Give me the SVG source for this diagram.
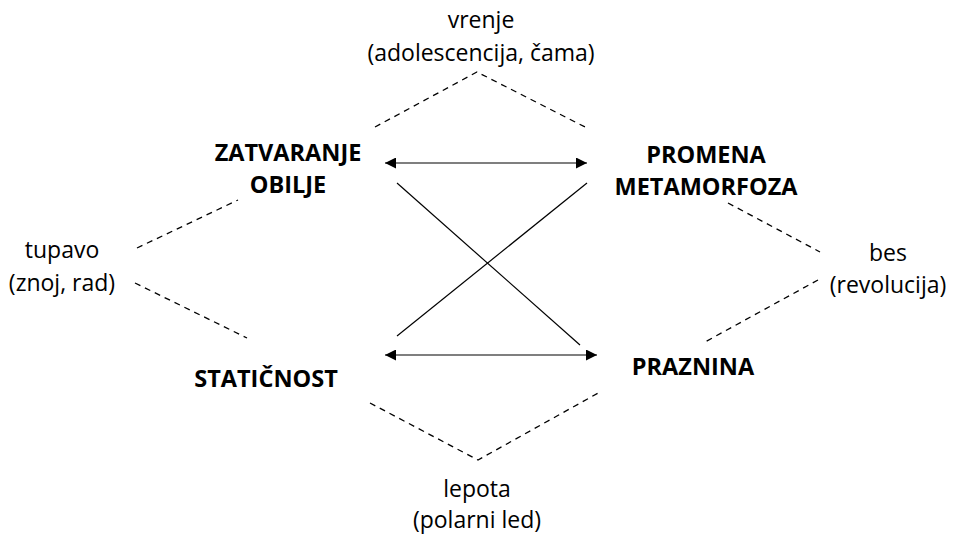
<svg xmlns="http://www.w3.org/2000/svg" width="965" height="534" viewBox="0 0 965 534">
<style>
.r{font-family:"Open Sans","Noto Sans",sans-serif;font-size:23px;fill:#000;text-anchor:middle}
.b{font-family:"Open Sans","Noto Sans",sans-serif;font-size:23.5px;font-weight:bold;fill:#000;text-anchor:middle}
.d{stroke:#000;stroke-width:1.3;stroke-dasharray:6 5;fill:none}
.s{stroke:#000;stroke-width:1.2;fill:none}
</style>
<defs>
<marker id="ah" viewBox="0 0 10 10" refX="10" refY="5" markerWidth="15" markerHeight="11" markerUnits="userSpaceOnUse" orient="auto-start-reverse">
<path d="M0,0 L10,5 L0,10 z" fill="#000"/>
</marker>
</defs>
<rect width="965" height="534" fill="#fff"/>
<g id="connectors">
<path class="d" d="M375,127 L477,72 L587,128"/>
<path class="d" d="M137,248 L238,200"/>
<path class="d" d="M135,283 L247,338"/>
<path class="d" d="M728,203 L820,252"/>
<path class="d" d="M818,280 L705,342"/>
<path class="d" d="M370,403 L478,460 L600,392"/>
<line class="s" x1="385" y1="163" x2="587" y2="163" marker-start="url(#ah)" marker-end="url(#ah)"/>
<line class="s" x1="385" y1="355" x2="597" y2="355" marker-start="url(#ah)" marker-end="url(#ah)"/>
<line class="s" x1="397" y1="183" x2="580" y2="345"/>
<line class="s" x1="587" y1="183" x2="397" y2="336"/>
</g>
<g id="n-zatvaranje"><text class="b" x="288" y="161">ZATVARANJE</text><text class="b" x="288" y="193">OBILJE</text></g>
<g id="n-promena"><text class="b" x="706" y="163">PROMENA</text><text class="b" x="706" y="195">METAMORFOZA</text></g>
<g id="n-staticnost"><text class="b" x="266" y="387">STATIČNOST</text></g>
<g id="n-praznina"><text class="b" x="693" y="375">PRAZNINA</text></g>
<g id="n-vrenje"><text class="r" x="481" y="28">vrenje</text><text class="r" x="481" y="61">(adolescencija, čama)</text></g>
<g id="n-tupavo"><text class="r" x="62" y="258">tupavo</text><text class="r" x="62" y="291">(znoj, rad)</text></g>
<g id="n-bes"><text class="r" x="888" y="261">bes</text><text class="r" x="888" y="293">(revolucija)</text></g>
<g id="n-lepota"><text class="r" x="477" y="497">lepota</text><text class="r" x="477" y="528">(polarni led)</text></g>
</svg>
